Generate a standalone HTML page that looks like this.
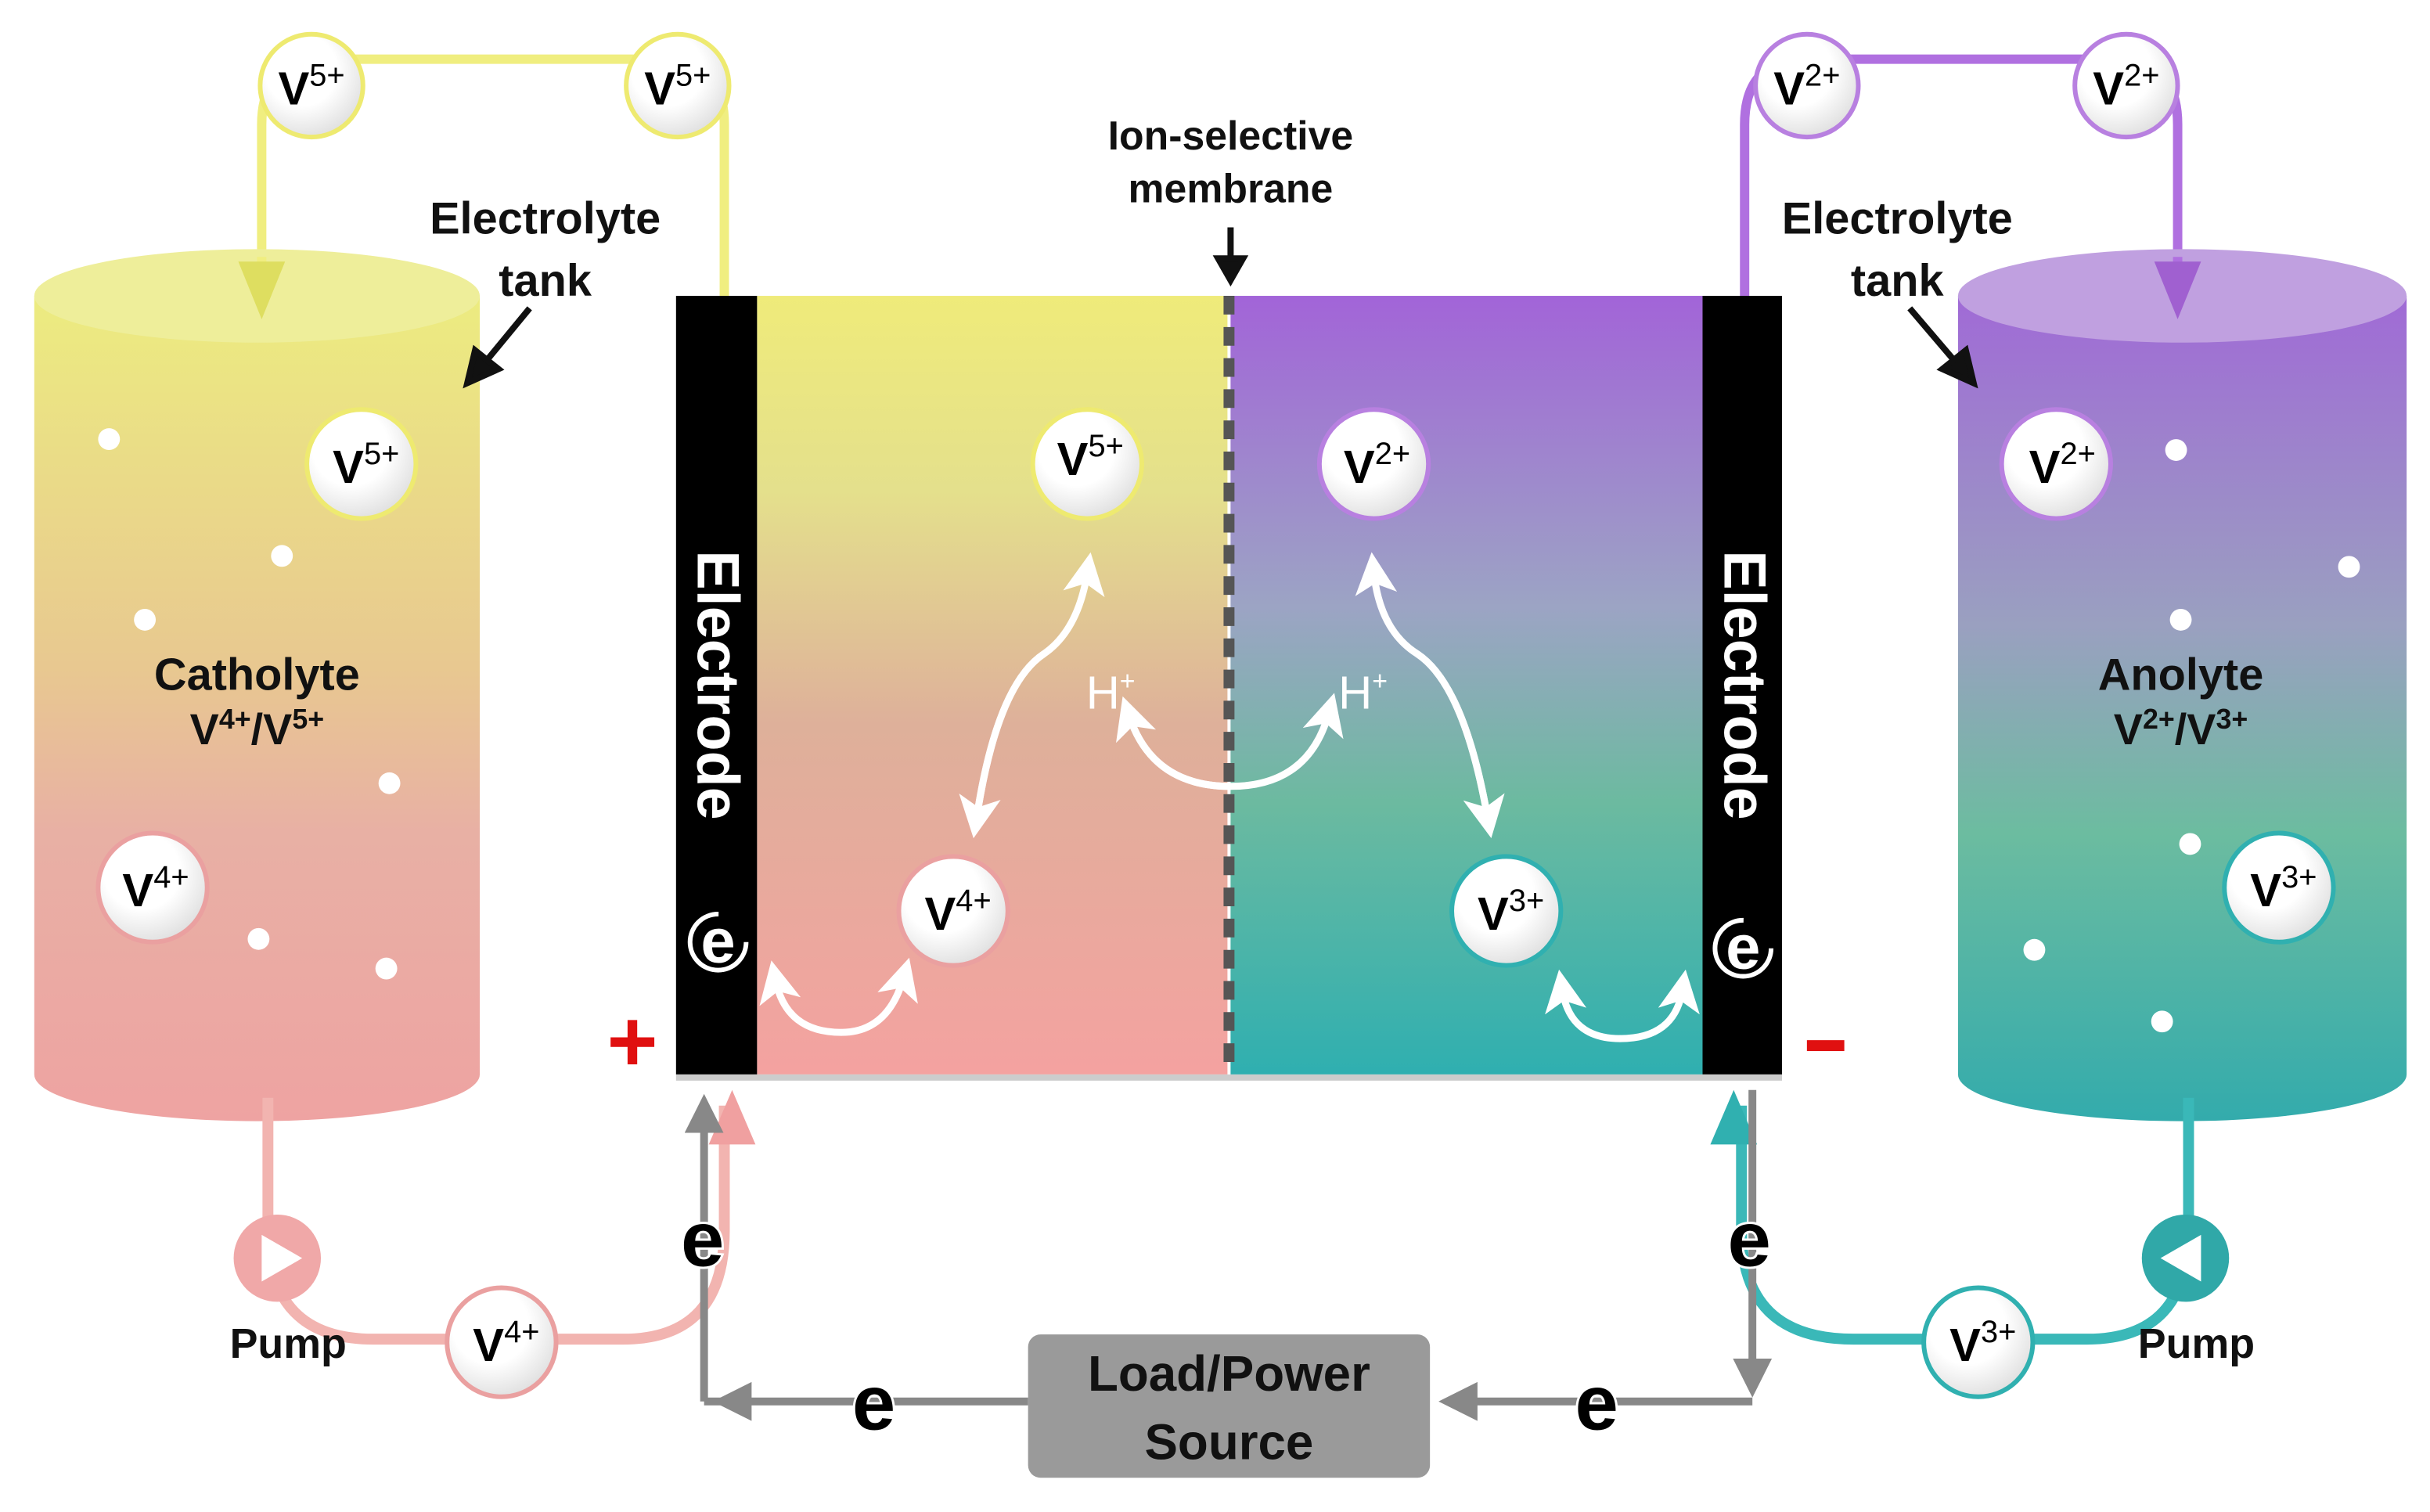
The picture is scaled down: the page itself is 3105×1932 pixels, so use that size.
<!DOCTYPE html>
<html><head><meta charset="utf-8"><style>
html,body{margin:0;padding:0;background:#fff;width:3105px;height:1932px;overflow:hidden}
svg{display:block}
text{font-family:"Liberation Sans",sans-serif}
</style></head><body>
<svg width="3105" height="1932" viewBox="0 0 1560 971" preserveAspectRatio="none" xmlns="http://www.w3.org/2000/svg">
<defs>
<linearGradient id="lt" x1="0" y1="0" x2="0" y2="1"><stop offset="0" stop-color="#ecec80"/><stop offset="0.45" stop-color="#e8c890"/><stop offset="0.65" stop-color="#e8b0a4"/><stop offset="1" stop-color="#eea3a2"/></linearGradient>
<linearGradient id="rt" x1="0" y1="0" x2="0" y2="1"><stop offset="0" stop-color="#a06ad6"/><stop offset="0.4" stop-color="#9aa0c0"/><stop offset="0.65" stop-color="#6cbca0"/><stop offset="1" stop-color="#33abac"/></linearGradient>
<linearGradient id="lc" x1="0" y1="0" x2="0" y2="1"><stop offset="0" stop-color="#efeb7a"/><stop offset="0.25" stop-color="#e4e08c"/><stop offset="0.55" stop-color="#deb09a"/><stop offset="1" stop-color="#f4a2a0"/></linearGradient>
<linearGradient id="rc" x1="0" y1="0" x2="0" y2="1"><stop offset="0" stop-color="#a264d8"/><stop offset="0.4" stop-color="#9ca4c4"/><stop offset="0.65" stop-color="#6cbaa0"/><stop offset="1" stop-color="#2fafb0"/></linearGradient>
<radialGradient id="ball" cx="0.4" cy="0.35" r="0.7"><stop offset="0.5" stop-color="#fff"/><stop offset="1" stop-color="#ddd"/></radialGradient>
<marker id="wa" markerWidth="6" markerHeight="6" refX="3" refY="3" orient="auto" markerUnits="strokeWidth"><path d="M0,0 L6,3 L0,6 L1.5,3 Z" fill="#fff"/></marker>
<marker id="ga" markerWidth="5" markerHeight="5" refX="2.5" refY="2.5" orient="auto" markerUnits="strokeWidth"><path d="M0,0 L5,2.5 L0,5 Z" fill="#888"/></marker>
</defs>

<!-- pipes top -->
<path d="M168,175 V80 Q168,38 210,38 H425 Q465,38 465,80 V190" fill="none" stroke="#f0ee80" stroke-width="6"/>
<path d="M1120,190 V80 Q1120,38 1160,38 H1358 Q1398,38 1398,80 V180" fill="none" stroke="#b070e0" stroke-width="6"/>

<!-- tanks -->
<path d="M22,190 V690 A143,30 0 0 0 308,690 V190 Z" fill="url(#lt)"/>
<ellipse cx="165" cy="190" rx="143" ry="30" fill="#eeee9a"/>
<path d="M1257,190 V690 A144,30 0 0 0 1545,690 V190 Z" fill="url(#rt)"/>
<ellipse cx="1401" cy="190" rx="144" ry="30" fill="#c0a0e0"/>
<path d="M168,165 V185" stroke="#f0ee80" stroke-width="6"/>
<path d="M153,168 L168,205 L183,168 Z" fill="#dede60"/>
<path d="M1398,165 V185" stroke="#b070e0" stroke-width="6"/>
<path d="M1383,168 L1398,205 L1413,168 Z" fill="#a060d0"/>

<!-- bottom pipes -->
<path d="M172,705 V790 Q172,860 240,860 H400 Q465,860 465,790 V710" fill="none" stroke="#f2b4b0" stroke-width="7"/>
<path d="M455,735 L470,700 L485,735 Z" fill="#f0a0a0"/>
<path d="M1405,705 V790 Q1405,860 1340,860 H1190 Q1118,860 1118,790 V710" fill="none" stroke="#3ab8b8" stroke-width="7"/>
<path d="M1098,735 L1113,700 L1128,735 Z" fill="#30b0b0"/>

<!-- cell -->
<rect x="486" y="190" width="302" height="500" fill="url(#lc)"/>
<rect x="790" y="190" width="303" height="500" fill="url(#rc)"/>
<line x1="789" y1="190" x2="789" y2="690" stroke="#555" stroke-width="7" stroke-dasharray="12,8"/>
<rect x="434" y="190" width="52" height="500" fill="#000"/>
<rect x="1093" y="190" width="51" height="500" fill="#000"/>
<rect x="434" y="690" width="710" height="4" fill="#ccc"/>
<text transform="translate(448,440) rotate(90)" text-anchor="middle" font-size="38" font-weight="bold" fill="#fff">Electrode</text>
<text transform="translate(1107,440) rotate(90)" text-anchor="middle" font-size="38" font-weight="bold" fill="#fff">Electrode</text>
<text x="461" y="618" text-anchor="middle" font-size="40" font-weight="bold" fill="#fff">e</text>
<circle cx="461" cy="605" r="18" fill="none" stroke="#fff" stroke-width="3" stroke-dasharray="85,30"/>
<text x="1119" y="622" text-anchor="middle" font-size="40" font-weight="bold" fill="#fff">e</text>
<circle cx="1119" cy="609" r="18" fill="none" stroke="#fff" stroke-width="3" stroke-dasharray="85,30"/>

<!-- white arrows -->
<g fill="none" stroke="#fff" stroke-width="4.5" stroke-linecap="round">
<path d="M627,525 Q640,440 670,420 Q692,405 698,368" marker-end="url(#wa)"/>
<path d="M670,420 Q640,440 627,525" marker-end="url(#wa)"/>
<path d="M955,525 Q940,440 910,420 Q886,405 882,368" marker-end="url(#wa)"/>
<path d="M910,420 Q940,440 955,525" marker-end="url(#wa)"/>
<path d="M725,460 Q740,505 790,505 Q840,505 853,458" marker-end="url(#wa)"/>
<path d="M790,505 Q740,505 725,460" marker-end="url(#wa)"/>
<path d="M540,663 Q570,663 580,628" marker-end="url(#wa)"/>
<path d="M540,663 Q505,663 498,630" marker-end="url(#wa)"/>
<path d="M1040,667 Q1075,667 1080,636" marker-end="url(#wa)"/>
<path d="M1040,667 Q1008,667 1003,636" marker-end="url(#wa)"/>
</g>
<text x="713" y="455" text-anchor="middle" font-size="30" fill="#fff">H<tspan font-size="17" dy="-12">+</tspan></text>
<text x="875" y="455" text-anchor="middle" font-size="30" fill="#fff">H<tspan font-size="17" dy="-12">+</tspan></text>

<!-- ions -->
<g font-size="30" font-weight="bold" text-anchor="middle">
<g stroke-width="3">
<circle cx="200" cy="55" r="33" fill="url(#ball)" stroke="#eeea70"/>
<circle cx="435" cy="55" r="33" fill="url(#ball)" stroke="#eeea70"/>
<circle cx="232" cy="298" r="35" fill="url(#ball)" stroke="#eeea70"/>
<circle cx="698" cy="298" r="35" fill="url(#ball)" stroke="#eeea70"/>
<circle cx="1160" cy="55" r="33" fill="url(#ball)" stroke="#b880e0"/>
<circle cx="1365" cy="55" r="33" fill="url(#ball)" stroke="#b880e0"/>
<circle cx="882" cy="298" r="35" fill="url(#ball)" stroke="#b880e0"/>
<circle cx="1320" cy="298" r="35" fill="url(#ball)" stroke="#b880e0"/>
<circle cx="98" cy="570" r="35" fill="url(#ball)" stroke="#eaa0a0"/>
<circle cx="612" cy="585" r="35" fill="url(#ball)" stroke="#eaa0a0"/>
<circle cx="322" cy="862" r="35" fill="url(#ball)" stroke="#eaa0a0"/>
<circle cx="967" cy="585" r="35" fill="url(#ball)" stroke="#30b0b0"/>
<circle cx="1463" cy="570" r="35" fill="url(#ball)" stroke="#30b0b0"/>
<circle cx="1270" cy="862" r="35" fill="url(#ball)" stroke="#30b0b0"/>
</g>
<text x="200" y="67">V<tspan font-size="20" font-weight="normal" dy="-12">5+</tspan></text>
<text x="435" y="67">V<tspan font-size="20" font-weight="normal" dy="-12">5+</tspan></text>
<text x="235" y="310">V<tspan font-size="20" font-weight="normal" dy="-12">5+</tspan></text>
<text x="700" y="305">V<tspan font-size="20" font-weight="normal" dy="-12">5+</tspan></text>
<text x="1160" y="67">V<tspan font-size="20" font-weight="normal" dy="-12">2+</tspan></text>
<text x="1365" y="67">V<tspan font-size="20" font-weight="normal" dy="-12">2+</tspan></text>
<text x="884" y="310">V<tspan font-size="20" font-weight="normal" dy="-12">2+</tspan></text>
<text x="1324" y="310">V<tspan font-size="20" font-weight="normal" dy="-12">2+</tspan></text>
<text x="100" y="582">V<tspan font-size="20" font-weight="normal" dy="-12">4+</tspan></text>
<text x="615" y="597">V<tspan font-size="20" font-weight="normal" dy="-12">4+</tspan></text>
<text x="325" y="874">V<tspan font-size="20" font-weight="normal" dy="-12">4+</tspan></text>
<text x="970" y="597">V<tspan font-size="20" font-weight="normal" dy="-12">3+</tspan></text>
<text x="1466" y="582">V<tspan font-size="20" font-weight="normal" dy="-12">3+</tspan></text>
<text x="1273" y="874">V<tspan font-size="20" font-weight="normal" dy="-12">3+</tspan></text>
</g>

<!-- dots -->
<g fill="#fff">
<circle cx="70" cy="282" r="7"/><circle cx="181" cy="357" r="7"/><circle cx="93" cy="398" r="7"/><circle cx="250" cy="503" r="7"/><circle cx="166" cy="603" r="7"/><circle cx="248" cy="622" r="7"/>
<circle cx="1397" cy="289" r="7"/><circle cx="1508" cy="364" r="7"/><circle cx="1400" cy="398" r="7"/><circle cx="1406" cy="542" r="7"/><circle cx="1306" cy="610" r="7"/><circle cx="1388" cy="656" r="7"/>
</g>

<!-- pumps -->
<circle cx="178" cy="808" r="28" fill="#f0a8a8"/><path d="M168,793 L194,808 L168,823 Z" fill="#fff"/>
<circle cx="1403" cy="808" r="28" fill="#30a8a8"/><path d="M1413,793 L1387,808 L1413,823 Z" fill="#fff"/>

<!-- gray circuit -->
<g fill="none" stroke="#888" stroke-width="5">
<path d="M452,900 V715" marker-end="url(#ga)"/>
<path d="M660,900 H470" marker-end="url(#ga)"/>
<line x1="452" y1="900" x2="470" y2="900"/>
<path d="M1125,900 H936" marker-end="url(#ga)"/>
<path d="M1125,700 V885" marker-end="url(#ga)"/>
</g>
<rect x="660" y="857" width="258" height="92" rx="8" fill="#9a9a9a"/>
<text x="789" y="893" text-anchor="middle" font-size="32" font-weight="bold" fill="#111">Load/Power</text>
<text x="789" y="937" text-anchor="middle" font-size="32" font-weight="bold" fill="#111">Source</text>
<g font-size="50" font-weight="bold" text-anchor="middle" fill="#000" stroke="#fff" stroke-width="3" paint-order="stroke">
<text x="451" y="813">e</text><text x="561" y="918">e</text><text x="1025" y="918">e</text><text x="1123" y="813">e</text>
</g>

<!-- labels -->
<g font-size="29" font-weight="bold" text-anchor="middle" fill="#111">
<text x="350" y="150">Electrolyte</text><text x="350" y="190">tank</text>
<text x="1218" y="150">Electrolyte</text><text x="1218" y="190">tank</text>
<text x="790" y="96" font-size="26">Ion-selective</text><text x="790" y="130" font-size="26">membrane</text>
<text x="165" y="443">Catholyte</text><text x="165" y="478" font-size="28">V<tspan font-size="18" dy="-10">4+</tspan><tspan dy="10">/V</tspan><tspan font-size="18" dy="-10">5+</tspan></text>
<text x="1400" y="443">Anolyte</text><text x="1400" y="478" font-size="28">V<tspan font-size="18" dy="-10">2+</tspan><tspan dy="10">/V</tspan><tspan font-size="18" dy="-10">3+</tspan></text>
<text x="185" y="872" font-size="27">Pump</text>
<text x="1410" y="872" font-size="27">Pump</text>
</g>
<g stroke="#111" stroke-width="4" fill="#111">
<line x1="340" y1="198" x2="312" y2="232"/><path d="M300,246 L305,225 L320,237 Z"/>
<line x1="1226" y1="198" x2="1255" y2="232"/><path d="M1267,246 L1247,237 L1262,225 Z"/>
<line x1="790" y1="146" x2="790" y2="168"/><path d="M782,166 L798,166 L790,180 Z"/>
</g>
<text x="406" y="688" text-anchor="middle" font-size="56" font-weight="bold" fill="#e01010">+</text>
<rect x="1160" y="668" width="24" height="7" fill="#e01010"/>
</svg>
</body></html>
